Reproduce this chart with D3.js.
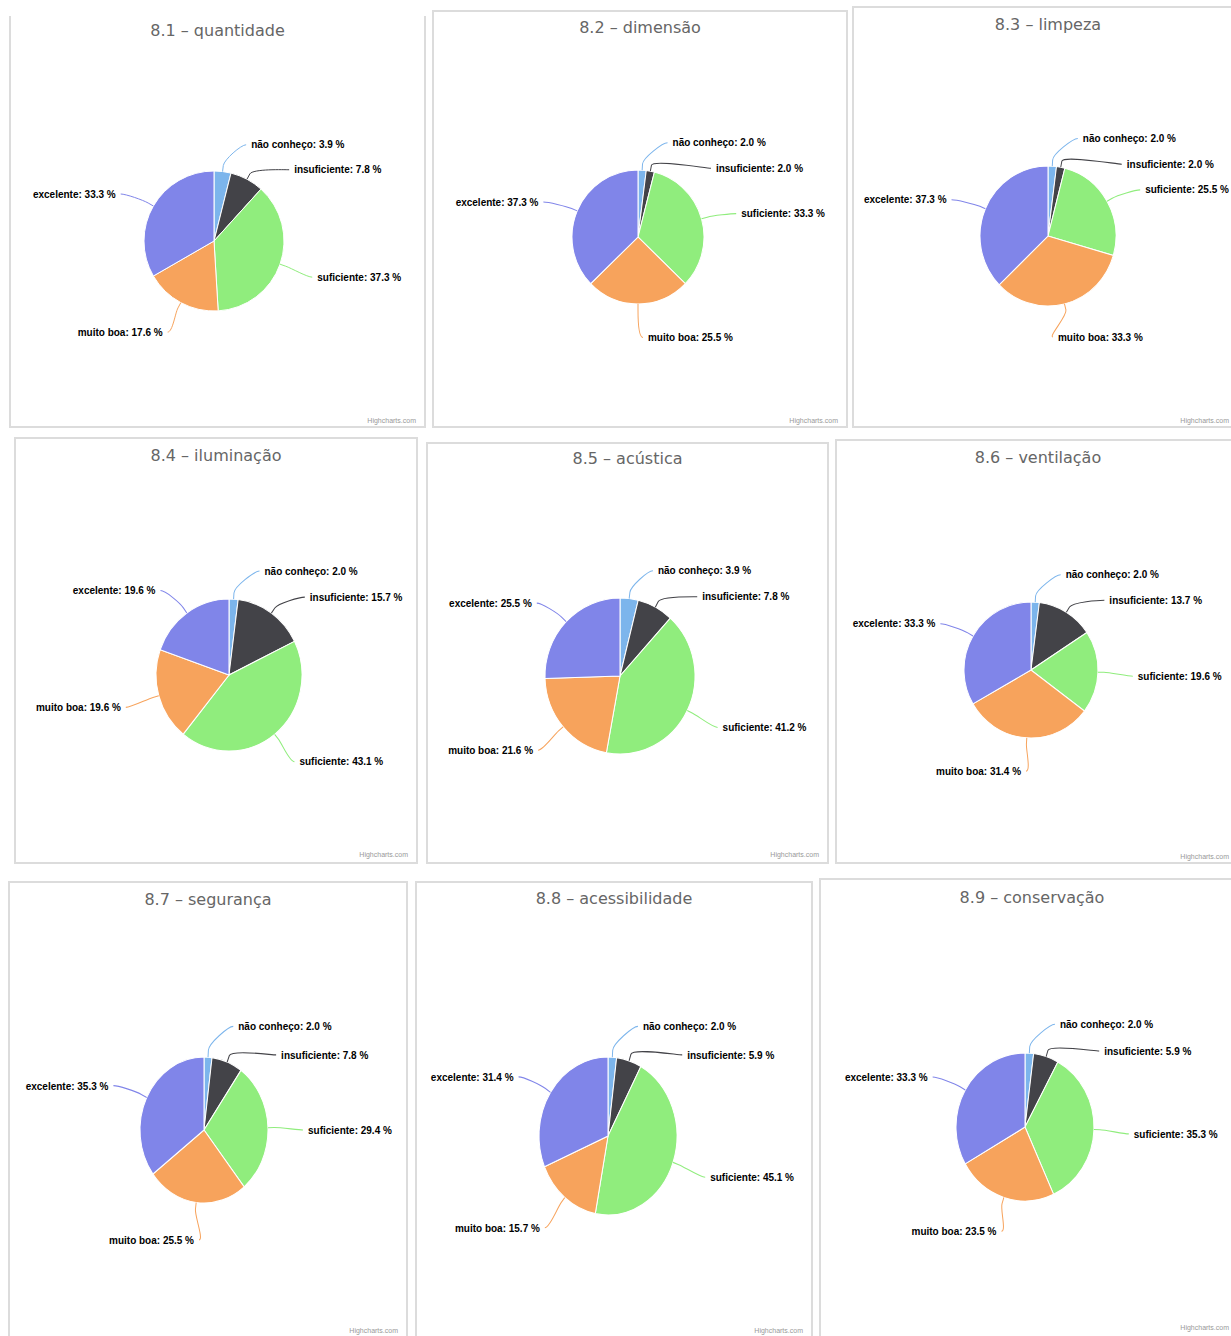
<!DOCTYPE html>
<html>
<head>
<meta charset="utf-8">
<script src="https://cdn.jsdelivr.net/npm/d3@7"></script>
<style>
  body { margin: 0; background: #fff; }
  svg { display: block; }
</style>
</head>
<body>
<div id="chart"></div>
<script>
// categories and colours (Highcharts defaults)
var categories = ["não conheço", "insuficiente", "suficiente", "muito boa", "excelente"];
var colors = ["#7cb5ec", "#434348", "#90ed7d", "#f7a35c", "#8085e9"];

var titles = ["8.1 – quantidade", "8.2 – dimensão", "8.3 – limpeza",
              "8.4 – iluminação", "8.5 – acústica", "8.6 – ventilação",
              "8.7 – segurança", "8.8 – acessibilidade", "8.9 – conservação"];

// percentages, same order as categories
var quantidade    = [3.9, 7.8, 37.3, 17.6, 33.3];
var dimensao      = [2.0, 2.0, 33.3, 25.5, 37.3];
var limpeza       = [2.0, 2.0, 25.5, 33.3, 37.3];
var iluminacao    = [2.0, 15.7, 43.1, 19.6, 19.6];
var acustica      = [3.9, 7.8, 41.2, 21.6, 25.5];
var ventilacao    = [2.0, 13.7, 19.6, 31.4, 33.3];
var seguranca     = [2.0, 7.8, 29.4, 25.5, 35.3];
var acessibilidade = [2.0, 5.9, 45.1, 15.7, 31.4];
var conservacao   = [2.0, 5.9, 35.3, 23.5, 33.3];

var series = [quantidade, dimensao, limpeza, iluminacao, acustica,
              ventilacao, seguranca, acessibilidade, conservacao];

// where each screenshot sits on the page (they are not aligned exactly)
var panels = [
  {x: 10,  y: 16,  w: 415, h: 411, open: true, ty: 36,   cy2: 423,  cx: 214,  cy: 241,  rx: 70, ry: 70},
  {x: 433, y: 11,  w: 414, h: 416, ty: 33,   cy2: 423,  cx: 638,  cy: 237,  rx: 66, ry: 67},
  {x: 853, y: 7,   w: 390, h: 420, ty: 30,   cy2: 423,  cx: 1048, cy: 236,  rx: 68, ry: 70},
  {x: 15,  y: 438, w: 402, h: 425, ty: 461,  cy2: 857,  cx: 229,  cy: 675,  rx: 73, ry: 76},
  {x: 427, y: 443, w: 401, h: 420, ty: 464,  cy2: 857,  cx: 620,  cy: 676,  rx: 75, ry: 78},
  {x: 836, y: 440, w: 404, h: 423, ty: 463,  cy2: 859,  cx: 1031, cy: 670,  rx: 67, ry: 68},
  {x: 9,   y: 882, w: 398, h: 470, ty: 905,  cy2: 1333, cx: 204,  cy: 1130, rx: 64, ry: 73},
  {x: 416, y: 882, w: 396, h: 470, ty: 904,  cy2: 1333, cx: 608,  cy: 1136, rx: 69, ry: 79},
  {x: 820, y: 879, w: 424, h: 470, ty: 903,  cy2: 1330, cx: 1025, cy: 1127, rx: 69, ry: 74}
];

var labelDistance = 30, labelPad = 5, labelGap = 25, breakOffset = 6;

var svg = d3.select("#chart")
  .append("svg")
    .attr("width", 1231)
    .attr("height", 1336);

panels.forEach(function(p, i) {
  var g = svg.append("g");
  var x0 = p.x, x1 = p.x + p.w, y0 = p.y, y1 = p.y + p.h;

  // frame
  g.append("path")
    .attr("d", p.open
      ? "M" + x0 + "," + y0 + "V" + y1 + "H" + x1 + "V" + y0
      : "M" + x0 + "," + y0 + "V" + y1 + "H" + x1 + "V" + y0 + "Z")
    .attr("fill", "none")
    .attr("stroke", "#dcdcdc")
    .attr("stroke-width", 2);

  g.append("text")
    .text(titles[i])
    .attr("x", p.x + p.w / 2)
    .attr("y", p.ty)
    .style("text-anchor", "middle")
    .style("font-family", "DejaVu Sans, sans-serif")
    .style("font-size", "16px")
    .style("fill", "#666");

  g.append("text")
    .text("Highcharts.com")
    .attr("x", Math.min(x1 - 9, 1229))
    .attr("y", p.cy2)
    .style("text-anchor", "end")
    .style("font-family", "Liberation Sans, sans-serif")
    .style("font-size", "7px")
    .style("fill", "#999");

  // pie, drawn round (0,0) and stretched like the screenshot
  var r = p.rx, sy = p.ry / p.rx, R = r + labelDistance;
  var pg = g.append("g")
    .attr("transform", "translate(" + p.cx + "," + p.cy + ") scale(1," + sy + ")");

  var data = series[i].map(function(v, k) { return {name: categories[k], value: v, color: colors[k]}; });
  var arcs = d3.pie().sort(null).value(function(d) { return d.value; })(data);
  var arc = d3.arc().innerRadius(0).outerRadius(r);

  pg.selectAll("path.slice")
    .data(arcs)
    .enter()
    .append("path")
      .attr("class", "slice")
      .attr("d", arc)
      .attr("fill", function(d) { return d.data.color; })
      .attr("stroke", "#fff")
      .attr("stroke-width", 1);

  // label positions, Highcharts style: natural spot then pushed apart per side
  arcs.forEach(function(d) {
    d.mid = (d.startAngle + d.endAngle) / 2;
    d.side = d.mid <= Math.PI + 1e-4 ? 1 : -1;
    d.ly = -R * Math.cos(d.mid) + 3;
  });
  [1, -1].forEach(function(side) {
    var half = arcs.filter(function(d) { return d.side === side; })
      .sort(function(a, b) { return a.ly - b.ly; });
    for (var k = 1; k < half.length; k++) {
      if (half[k].ly < half[k - 1].ly + labelGap) half[k].ly = half[k - 1].ly + labelGap;
    }
  });
  arcs.forEach(function(d) {
    var s = Math.max(-1, Math.min(1, d.ly / R));
    d.lx = d.side * (Math.cos(Math.asin(s)) * R + labelPad);
  });

  pg.selectAll("path.connector")
    .data(arcs)
    .enter()
    .append("path")
      .attr("class", "connector")
      .attr("d", function(d) {
        var tx = r * Math.sin(d.mid), ty = -r * Math.cos(d.mid);
        var bx = (r + breakOffset) * Math.sin(d.mid), by = -(r + breakOffset) * Math.cos(d.mid);
        return "M" + d.lx + "," + d.ly +
          "C" + (d.lx - d.side * 5) + "," + d.ly + " " + (2 * bx - tx) + "," + (2 * by - ty) + " " + bx + "," + by +
          "L" + tx + "," + ty;
      })
      .attr("fill", "none")
      .attr("stroke", function(d) { return d.data.color; })
      .attr("stroke-width", 1);

  pg.selectAll("text.label")
    .data(arcs)
    .enter()
    .append("text")
      .attr("class", "label")
      .text(function(d) { return d.data.name + ": " + d.data.value.toFixed(1) + " %"; })
      .attr("x", function(d) { return d.lx + d.side * labelPad; })
      .attr("y", function(d) { return d.ly; })
      .attr("dy", "0.35em")
      .style("text-anchor", function(d) { return d.side > 0 ? "start" : "end"; })
      .style("font-family", "Liberation Sans, Arial, sans-serif")
      .style("font-size", "10px")
      .style("font-weight", "bold")
      .style("fill", "#000");
});
</script>
</body>
</html>
